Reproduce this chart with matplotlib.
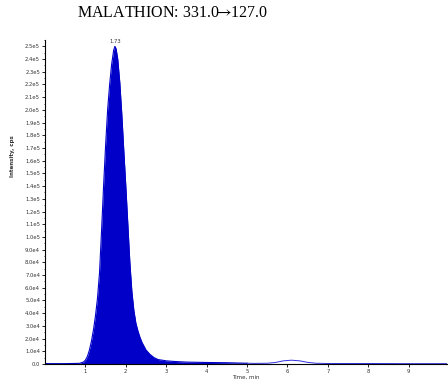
import numpy as np
import matplotlib
matplotlib.use("Agg")
import matplotlib.pyplot as plt
from matplotlib.ticker import MultipleLocator, FixedLocator

# integrated peak region (time in min, intensity in cps)
peak_t = [0.00, 0.50, 0.85, 0.95, 1.00, 1.05, 1.10, 1.15, 1.20, 1.25, 1.30, 1.35,
          1.40, 1.45, 1.50, 1.55, 1.60, 1.65, 1.70, 1.73, 1.76, 1.80, 1.85, 1.90,
          1.95, 2.00, 2.05, 2.10, 2.15, 2.20, 2.25, 2.30, 2.35, 2.40, 2.50, 2.60,
          2.70, 2.80, 3.00, 3.20, 3.50, 4.00, 4.50, 5.00]
peak_i = [300, 300, 500, 1500, 3000, 6000, 11000, 18000, 27000, 38000, 52000, 72000,
          105000, 140000, 172000, 200000, 220000, 236000, 247000, 250000, 248000,
          240000, 222000, 197000, 168000, 140000, 110000, 80000, 57000, 42000, 32000,
          26000, 21000, 17000, 11000, 7500, 5000, 3500, 2500, 2000, 1500, 1200, 1000, 600]

# rest of trace after the integration window
tail_t = [5.00, 5.20, 5.50, 5.70, 5.90, 6.10, 6.30, 6.50, 6.70, 7.00, 8.00, 9.00, 9.95]
tail_i = [600, 500, 600, 1200, 2500, 3000, 2500, 1300, 600, 400, 400, 300, 300]

apex_t = 1.73
apex_i = 250000
base_t = [0.88, 5.35]

title = "MALATHION: 331.0$\\!\\!\\rightarrow\\!\\!$127.0"

plt.rcParams["mathtext.fontset"] = "stix"

fig = plt.figure(figsize=(4.48, 3.81), dpi=100)
ax = fig.add_axes([0.1004, 0.0446, 0.8976, 0.8504])

blue = "#0000c8"
ax.fill_between(peak_t, 0, peak_i, color=blue, lw=0)
ax.plot(peak_t, peak_i, color=blue, lw=0.8)
ax.plot(tail_t, tail_i, color="#3030e0", lw=0.7)
ax.plot(base_t, [0, 0], color="black", lw=0.8, ls=(0, (2, 2)))
ax.text(apex_t, apex_i + 1500, "%.2f" % apex_t, ha="center", va="bottom",
        fontsize=3.8, color="#333333")

ax.set_xlim(0, 9.95)
ax.set_ylim(0, 2.55e5)

yt = np.arange(0, 26) * 1e4
ylab = []
for v in yt:
    if v == 0:
        ylab.append("0.0")
    else:
        e = int(np.floor(np.log10(v)))
        ylab.append("%.1fe%d" % (v / 10**e, e))
ax.yaxis.set_major_locator(FixedLocator(yt))
ax.set_yticklabels(ylab)
ax.yaxis.set_minor_locator(MultipleLocator(5e3))
ax.xaxis.set_major_locator(FixedLocator(range(1, 10)))

ax.tick_params(axis="both", which="major", labelsize=3.8, length=2, width=0.6,
               pad=1.5, labelcolor="#333333")
ax.tick_params(axis="both", which="minor", length=1, width=0.5)

for s in ["top", "right"]:
    ax.spines[s].set_visible(False)
for s in ["left", "bottom"]:
    ax.spines[s].set_linewidth(0.8)

ax.set_xlabel("Time, min", fontsize=4, labelpad=1, color="#333333")
fig.text(0.027, 0.59, "Intensity, cps", rotation=90, fontsize=4, ha="center",
         va="center", color="#333333", fontweight="bold")
fig.text(0.384, 0.965, title, fontsize=11.5, family="Liberation Serif",
         ha="center", va="center")

fig.savefig("out.png", dpi=100)
